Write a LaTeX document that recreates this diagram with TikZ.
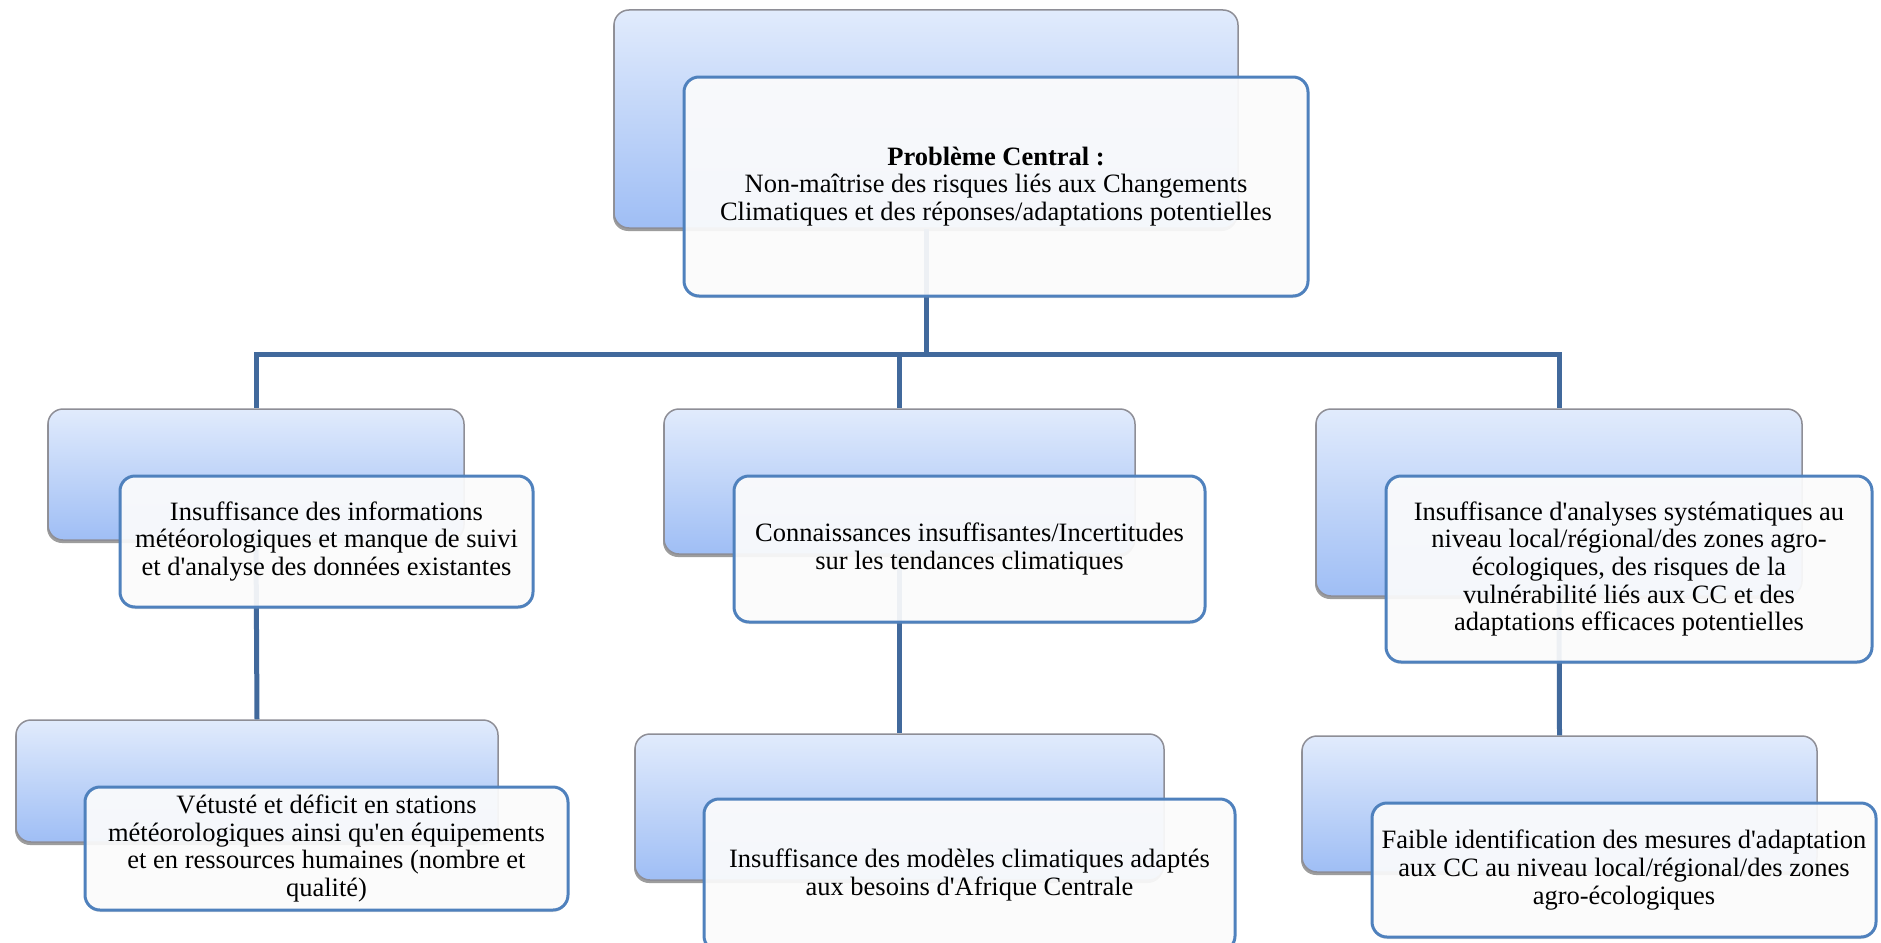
\documentclass[tikz,border=0pt]{standalone}
\usepackage{fontspec}
\setmainfont{Liberation Serif}
\usetikzlibrary{shadows}
\definecolor{backtop}{HTML}{E1EBFC}
\definecolor{backbot}{HTML}{9FBEF5}
\definecolor{backedge}{HTML}{8E8E96}
\definecolor{frontedge}{HTML}{4F81BD}
\definecolor{linkcol}{HTML}{41699C}
\newcommand{\ap}{\textquotesingle}
\begin{document}
\begin{tikzpicture}[x=1pt,y=-1pt,
  backbox/.style={rectangle, rounded corners=15pt, draw=backedge, line width=1.5pt,
    top color=backtop, bottom color=backbot, inner sep=0pt,
    drop shadow={shadow xshift=-1pt, shadow yshift=-3pt, opacity=0.55, fill=black!70}},
  frontbox/.style={rectangle, rounded corners=15pt, draw=frontedge, line width=3pt,
    fill=white, fill opacity=0.9, text opacity=1, inner sep=4pt, align=center,
    font=\fontsize{26.5}{27.6}\selectfont,
    drop shadow={shadow xshift=0pt, shadow yshift=-2pt, opacity=0.25}},
  link/.style={draw=linkcol, line width=5pt}]
\useasboundingbox (0,0) rectangle (1881,942);

% bus level between the central problem and its causes
\coordinate (bus) at (0,354);

% back cards
\node[backbox, minimum width=624pt, minimum height=218pt] (b0) at (926,119) {};
\node[backbox, minimum width=416pt, minimum height=131pt] (b1) at (256,474.5) {};
\node[backbox, minimum width=471pt, minimum height=145pt] (b2) at (899.5,481.5) {};
\node[backbox, minimum width=486pt, minimum height=187pt] (b3) at (1559,502.5) {};
\node[backbox, minimum width=482pt, minimum height=122pt] (c1) at (257,781) {};
\node[backbox, minimum width=529pt, minimum height=146pt] (c2) at (899.5,807) {};
\node[backbox, minimum width=515pt, minimum height=136pt] (c3) at (1559.5,804) {};

% connectors
\draw[link] (b0.south) -- (b0.south |- bus) -| (b1.north);
\draw[link] (b0.south |- bus) -| (b2.north);
\draw[link] (b0.south |- bus) -| (b3.north);
\draw[link] (b1.south) -- (c1.north);
\draw[link] (b2.south) -- (c2.north);
\draw[link] (b3.south) -- (c3.north);

% front cards with the texts
\node[frontbox, minimum width=624pt, minimum height=219pt] (f0) at (996,186.5)
  {\textbf{Problème Central :}\\Non-maîtrise des risques liés aux Changements\\Climatiques et des réponses/adaptations potentielles};
\node[frontbox, minimum width=413pt, minimum height=131pt] (f1) at (326.5,541.5)
  {Insuffisance des informations\\météorologiques et manque de suivi\\et d\ap analyse des données existantes};
\node[frontbox, minimum width=471pt, minimum height=146pt] (f2) at (969.5,549)
  {Connaissances insuffisantes/Incertitudes\\sur les tendances climatiques};
\node[frontbox, minimum width=486pt, minimum height=186pt] (f3) at (1629,569)
  {Insuffisance d\ap analyses systématiques au\\niveau local/régional/des zones agro-\\écologiques, des risques de la\\vulnérabilité liés aux CC et des\\adaptations efficaces potentielles};
\node[frontbox, minimum width=483pt, minimum height=123pt] (g1) at (326.5,848.5)
  {Vétusté et déficit en stations\\météorologiques ainsi qu\ap en équipements\\et en ressources humaines (nombre et\\qualité)};
\node[frontbox, minimum width=531pt, minimum height=152pt] (g2) at (969.5,875)
  {Insuffisance des modèles climatiques adaptés\\aux besoins d\ap Afrique Centrale};
\node[frontbox, minimum width=504pt, minimum height=134pt] (g3) at (1624,870)
  {Faible identification des mesures d\ap adaptation\\aux CC au niveau local/régional/des zones\\agro-écologiques};
\end{tikzpicture}
\end{document}
